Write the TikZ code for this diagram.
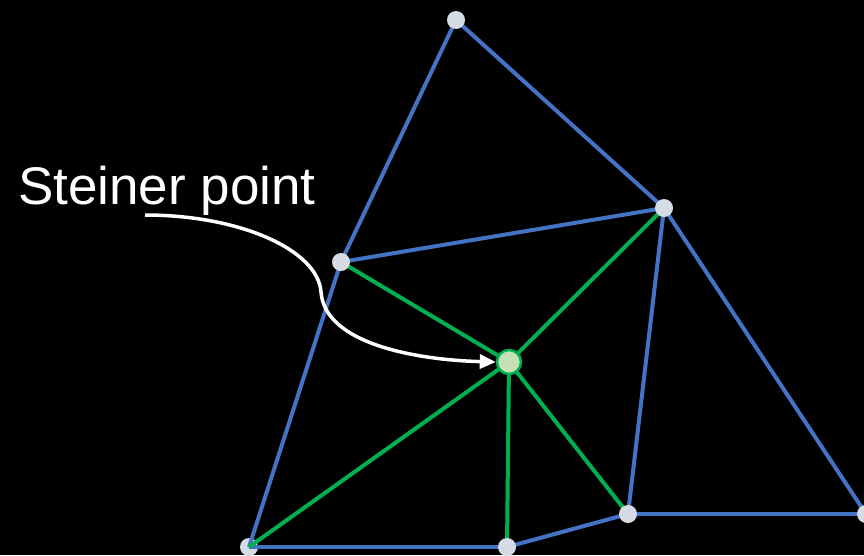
\documentclass[tikz,border=0pt]{standalone}
\usepackage{fontspec}
\setmainfont{Liberation Sans}
\usetikzlibrary{arrows.meta}
\pgfdeclarelayer{bg}
\pgfdeclarelayer{low}
\pgfdeclarelayer{edges}
\pgfsetlayers{bg,low,edges,main}
\definecolor{meshblue}{HTML}{4472C4}
\definecolor{meshgreen}{HTML}{00B050}
\definecolor{dotfill}{HTML}{D6DCE5}
\definecolor{steinerfill}{HTML}{C5E0B4}
\begin{document}
\begin{tikzpicture}[x=1pt,y=-1pt,
  vert/.style={circle,fill=dotfill,inner sep=0pt,minimum size=18pt},
  steiner/.style={circle,fill=steinerfill,draw=meshgreen,line width=2.5pt,inner sep=0pt,minimum size=24pt},
  blueedge/.style={draw=meshblue,line width=4pt},
  greenedge/.style={draw=meshgreen,line width=4pt},
  callout/.style={draw=white,line width=3.5pt,-{Triangle[length=16pt,width=14pt]}},
  lbl/.style={text=white,font=\fontsize{53}{60}\selectfont,inner sep=0pt,anchor=base west}]
\begin{pgfonlayer}{bg}
\fill[black] (0,0) rectangle (864,555);
\end{pgfonlayer}
\useasboundingbox (0,0) rectangle (864,555);
\node[vert] (top) at (456,20) {};
\node[vert] (ru) at (664,208) {};
\node[vert] (lm) at (341,262) {};
\node[steiner] (s) at (509,362) {};
\node[vert] (bm) at (507,547) {};
\node[vert] (bri) at (628,514) {};
\node[vert] (fr) at (866,514) {};
\begin{pgfonlayer}{low}
\node[vert] (bl) at (249,547) {};
\end{pgfonlayer}
\begin{pgfonlayer}{edges}
\draw[blueedge] (top.center) -- (lm.center);
\draw[blueedge] (top.center) -- (ru.center);
\draw[blueedge] (lm.center) -- (ru.center);
\draw[blueedge] (lm.center) -- (bl.center);
\draw[blueedge] (bl.center) -- (bm.center);
\draw[blueedge] (bm.center) -- (bri.center);
\draw[blueedge] (bri.center) -- (fr.center);
\draw[blueedge] (ru.center) -- (fr.center);
\draw[blueedge] (ru.center) -- (bri.center);
\draw[greenedge] (s.center) -- (lm.center);
\draw[greenedge] (s.center) -- (ru.center);
\draw[greenedge] (s.center) -- (bl.center);
\draw[greenedge] (s.center) -- (bm.center);
\draw[greenedge] (s.center) -- (bri.center);
\end{pgfonlayer}
\node[lbl] (label) at (18,204) {Steiner point};
\coordinate (cstart) at (145,215);
\draw[callout] (cstart) .. controls (240,215) and (318,250) .. (321,292) .. controls (325,345) and (420,360) .. (s.west);
\end{tikzpicture}
\end{document}
